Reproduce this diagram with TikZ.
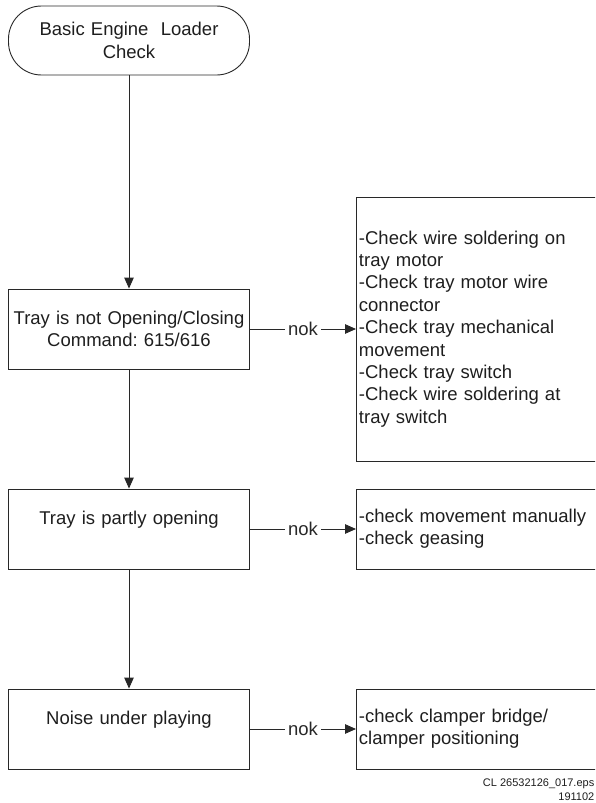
\documentclass[tikz,border=0pt]{standalone}
\usepackage{fontspec}
\setmainfont{Liberation Sans}
\frenchspacing
\usetikzlibrary{arrows.meta,positioning}
\definecolor{LineGray}{RGB}{40,40,40}
\definecolor{TextGray}{RGB}{30,30,30}
\tikzset{
  term/.style={draw=LineGray,line width=0.9pt,rounded corners=33pt,minimum width=241pt,minimum height=69pt,text width=236pt,align=center,inner sep=0pt},
  pbox/.style={draw=LineGray,line width=0.9pt,minimum width=241pt,minimum height=80pt,text width=236pt,align=center,inner sep=0pt},
  cbox/.style={draw=LineGray,line width=0.9pt,anchor=west,text width=240pt,inner xsep=2.5pt,inner ysep=0pt,align=left},
  arr/.style={-{Triangle[length=11pt,width=9.5pt]},LineGray,line width=0.9pt},
  nok/.style={fill=white,inner sep=3.5pt},
}
\begin{document}
\begin{tikzpicture}[x=1pt,y=-1pt,font=\fontsize{18.5}{22.4}\selectfont,text=TextGray]
    \useasboundingbox (0,0) rectangle (595,803);
    \clip (0,0) rectangle (595,803);
    %% Main column
    \node[term] (start)  at (129,40.5) {Basic Engine~~Loader\\Check};
    \node[pbox] (tray)   at (129,329)  {Tray is not Opening/Closing\\Command: 615/616};
    \node[pbox] (partly) at (129,529)  {Tray is partly opening\\\mbox{}};
    \node[pbox] (noise)  at (129,729)  {Noise under playing\\\mbox{}};
    %% Checks
    \node[cbox,minimum height=264pt] (chktray) at (356,329) {-Check wire soldering on\\tray motor\\-Check tray motor wire\\connector\\-Check tray mechanical\\movement\\-Check tray switch\\-Check wire soldering at\\tray switch};
    \node[cbox,minimum height=80pt] (chkpart) at (356,529) {-check movement manually\\-check geasing};
    \node[cbox,minimum height=80pt] (chknoise) at (356,729) {-check clamper bridge/\\clamper positioning};
    %% Reference
    \node[font=\fontsize{11}{14}\selectfont,align=right,anchor=east,inner sep=0pt] (ref) at (594.5,790) {CL 26532126\_017.eps\\191102};
    %% Arrows
    \draw[arr] (start)--(tray);
    \draw[arr] (tray)--(partly);
    \draw[arr] (partly)--(noise);
    \draw[arr] (tray)--node[nok]{nok}(chktray);
    \draw[arr] (partly)--node[nok]{nok}(chkpart);
    \draw[arr] (noise)--node[nok]{nok}(chknoise);
\end{tikzpicture}
\end{document}
